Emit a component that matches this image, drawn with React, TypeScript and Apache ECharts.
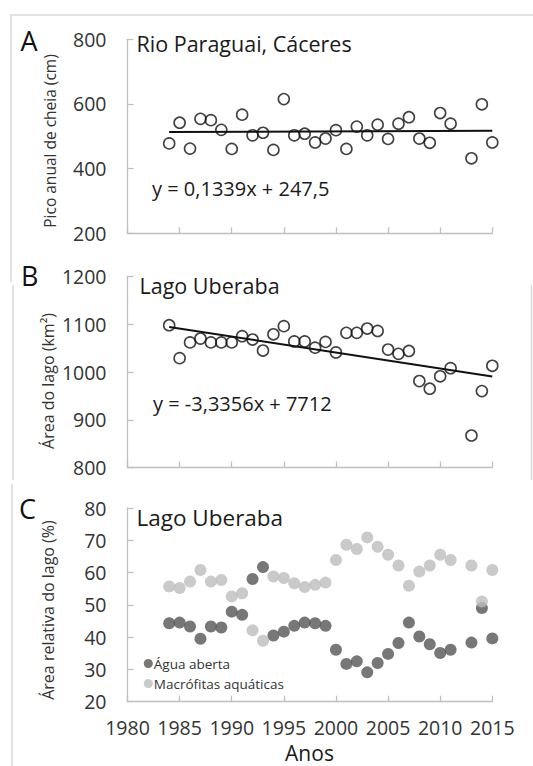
import React, { useEffect, useRef } from "react";
import * as echarts from "echarts";

const FONT = "'Open Sans', sans-serif";

const years = [
  1984, 1985, 1986, 1987, 1988, 1989, 1990, 1991, 1992, 1993, 1994, 1995, 1996, 1997, 1998, 1999,
  2000, 2001, 2002, 2003, 2004, 2005, 2006, 2007, 2008, 2009, 2010, 2011, 2013, 2014, 2015,
];

// A: Pico anual de cheia (cm) - Rio Paraguai, Cáceres
const peakFlood = [
  478, 542, 462, 554, 550, 520, 461, 567, 503, 511, 458, 615, 503, 508, 481, 493,
  519, 461, 530, 503, 536, 492, 539, 559, 493, 480, 572, 539, 432, 599, 481,
];

// B: Área do lago (km²) - Lago Uberaba
const lakeArea = [
  1098, 1029, 1062, 1070, 1062, 1062, 1062, 1075, 1068, 1045, 1079, 1096, 1064, 1064, 1051, 1063,
  1041, 1082, 1082, 1091, 1086, 1047, 1038, 1044, 981, 965, 991, 1008, 867, 960, 1013,
];

// C: Área relativa do lago (%)
const openWater = [
  44.3, 44.5, 43.3, 39.5, 43.3, 43.0, 47.9, 46.9, 58.0, 61.7, 40.5, 41.7, 43.5, 44.5, 44.3, 43.5,
  36.1, 31.7, 32.5, 29.1, 32.0, 34.8, 38.2, 44.5, 40.2, 37.8, 35.1, 36.1, 38.3, 49.0, 39.6,
];
const macrophytes = [
  55.7, 55.2, 57.2, 60.8, 57.2, 57.7, 52.6, 53.6, 42.1, 38.9, 58.8, 58.3, 56.7, 55.5, 56.2, 56.9,
  63.9, 68.6, 67.3, 70.9, 68.0, 65.5, 62.2, 55.9, 60.3, 62.2, 65.5, 63.9, 62.2, 51.0, 60.8,
];

// Trend lines (end points of the fitted equations shown in the panels)
const trendA = [
  [1984, 513.16],
  [2015, 517.31],
];
const trendB = [
  [1984, 1094.17],
  [2015, 990.77],
];

const yRanges = [
  { min: 200, max: 800, interval: 200 },
  { min: 800, max: 1200, interval: 100 },
  { min: 20, max: 80, interval: 10 },
];

const titles = ["Rio Paraguai, Cáceres", "Lago Uberaba", "Lago Uberaba"];
const letters = ["A", "B", "C"];
const yNames = ["Pico anual de cheia (cm)", "Área do lago (km²)", "Área relativa do lago (%)"];
const equations = ["y = 0,1339x + 247,5", "y = -3,3356x + 7712"];
const seriesNames = ["Água aberta", "Macrófitas aquáticas"];
const xName = "Anos";

const AXIS_COLOR = "#bfbfbf";
const LABEL_COLOR = "#333333";

const grids = [
  { left: 127.5, top: 39.3, width: 364.8, height: 194 },
  { left: 127.5, top: 276.5, width: 364.8, height: 191 },
  { left: 127.5, top: 508, width: 364.8, height: 193.7 },
];

function pairs(vals: number[]) {
  return years.map((y, i) => [y, vals[i]]);
}

const plain = (v: number) => String(v);

function buildOption(): any {
  const xAxis = grids.map((_, i) => ({
    gridIndex: i,
    type: "value",
    min: 1980,
    max: 2015,
    interval: 5,
    axisLine: { show: true, onZero: false, lineStyle: { color: AXIS_COLOR, width: 1.3 } },
    axisTick: { show: true, inside: true, length: 6, lineStyle: { color: AXIS_COLOR, width: 1.3 } },
    axisLabel: {
      show: i === 2,
      margin: 16,
      fontSize: 19.5,
      lineHeight: 20,
      fontFamily: FONT,
      color: LABEL_COLOR,
      formatter: plain,
    },
    splitLine: { show: false },
  }));
  const yAxis = grids.map((_, i) => ({
    gridIndex: i,
    type: "value",
    min: yRanges[i].min,
    max: yRanges[i].max,
    interval: yRanges[i].interval,
    axisLine: { show: true, onZero: false, lineStyle: { color: AXIS_COLOR, width: 1.3 } },
    axisTick: { show: true, inside: true, length: 6, lineStyle: { color: AXIS_COLOR, width: 1.3 } },
    axisLabel: { margin: 21, fontSize: 19.5, fontFamily: FONT, color: LABEL_COLOR, formatter: plain },
    splitLine: { show: false },
  }));

  const openCircle = {
    type: "scatter",
    symbol: "circle",
    symbolSize: 11,
    clip: false,
    itemStyle: { color: "rgba(0,0,0,0)", borderColor: "#111111", borderWidth: 1.6 },
    z: 3,
  };
  const trend = {
    type: "line",
    symbol: "none",
    showSymbol: false,
    lineStyle: { color: "#111111", width: 2 },
    z: 2,
  };

  const series: any[] = [
    { ...openCircle, name: "A", xAxisIndex: 0, yAxisIndex: 0, data: pairs(peakFlood) },
    { ...trend, name: "trendA", xAxisIndex: 0, yAxisIndex: 0, data: trendA },
    { ...openCircle, name: "B", xAxisIndex: 1, yAxisIndex: 1, data: pairs(lakeArea) },
    { ...trend, name: "trendB", xAxisIndex: 1, yAxisIndex: 1, data: trendB },
    {
      type: "scatter",
      name: seriesNames[0],
      xAxisIndex: 2,
      yAxisIndex: 2,
      symbol: "circle",
      symbolSize: 12,
      clip: false,
      itemStyle: { color: "#555555" },
      data: pairs(openWater),
      z: 3,
    },
    {
      type: "scatter",
      name: seriesNames[1],
      xAxisIndex: 2,
      yAxisIndex: 2,
      symbol: "circle",
      symbolSize: 12,
      clip: false,
      itemStyle: { color: "#bdbdbd" },
      data: pairs(macrophytes),
      z: 4,
    },
  ];

  const frameStyle = { stroke: "#d9d9d9", lineWidth: 1.5, fill: null };
  const graphic: any[] = [
    { type: "polyline", shape: { points: [[11, 282], [11, 15], [533, 15]] }, style: frameStyle, silent: true },
    { type: "line", shape: { x1: 13, y1: 285, x2: 13, y2: 480 }, style: frameStyle, silent: true },
    { type: "line", shape: { x1: 531.5, y1: 285, x2: 531.5, y2: 480 }, style: frameStyle, silent: true },
    { type: "line", shape: { x1: 12, y1: 484, x2: 12, y2: 766 }, style: frameStyle, silent: true },
  ];

  const letterPos = [
    [20.5, 40.8],
    [21, 275.8],
    [19, 508.3],
  ];
  letters.forEach((t, i) =>
    graphic.push({
      type: "text",
      x: letterPos[i][0],
      y: letterPos[i][1],
      style: { text: t, fontSize: 27, fontFamily: FONT, fill: "#111111", align: "left", verticalAlign: "middle" },
    })
  );

  const titlePos = [
    [136.5, 43.5, 21.5],
    [139.5, 285, 21.5],
    [136.5, 517, 22.5],
  ];
  titles.forEach((t, i) =>
    graphic.push({
      type: "text",
      x: titlePos[i][0],
      y: titlePos[i][1],
      style: { text: t, fontSize: titlePos[i][2], fontFamily: FONT, fill: "#1a1a1a", align: "left", verticalAlign: "middle" },
    })
  );

  const eqPos = [
    [152, 188],
    [153, 403.7],
  ];
  equations.forEach((t, i) =>
    graphic.push({
      type: "text",
      x: eqPos[i][0],
      y: eqPos[i][1],
      style: { text: t, fontSize: 20, fontFamily: FONT, fill: "#1a1a1a", align: "left", verticalAlign: "middle" },
    })
  );

  const yNamePos = [
    [49.5, 141, 15.5],
    [48, 381, 16],
    [48, 610, 16],
  ];
  yNames.forEach((t, i) =>
    graphic.push({
      type: "text",
      x: yNamePos[i][0],
      y: yNamePos[i][1],
      rotation: Math.PI / 2,
      style: { text: t, fontSize: yNamePos[i][2], fontFamily: FONT, fill: LABEL_COLOR, align: "center", verticalAlign: "middle" },
    })
  );

  graphic.push({
    type: "text",
    x: 309.5,
    y: 753,
    style: {
      text: xName,
      fontSize: 21,
      lineHeight: 21,
      fontFamily: FONT,
      fill: "#1a1a1a",
      align: "center",
      verticalAlign: "middle",
    },
  });

  return {
    animation: false,
    backgroundColor: "#ffffff",
    grid: grids,
    xAxis,
    yAxis,
    legend: {
      data: seriesNames,
      orient: "vertical",
      left: 143.8,
      top: 656.5,
      padding: 0,
      itemWidth: 9,
      itemHeight: 9,
      itemGap: 6,
      icon: "circle",
      selectedMode: false,
      textStyle: { fontFamily: FONT, fontSize: 13.5, color: LABEL_COLOR, padding: [0, 0, 0, -4] },
    },
    graphic,
    series,
  };
}

export default function App() {
  const ref = useRef<HTMLDivElement>(null);
  useEffect(() => {
    if (!ref.current) return;
    const chart = echarts.init(ref.current, null, { renderer: "svg" });
    chart.setOption(buildOption());
    return () => chart.dispose();
  }, []);
  return (
    <div
      ref={ref}
      style={{ position: "fixed", left: 0, top: 0, width: 533, height: 766, background: "#ffffff" }}
    />
  );
}
